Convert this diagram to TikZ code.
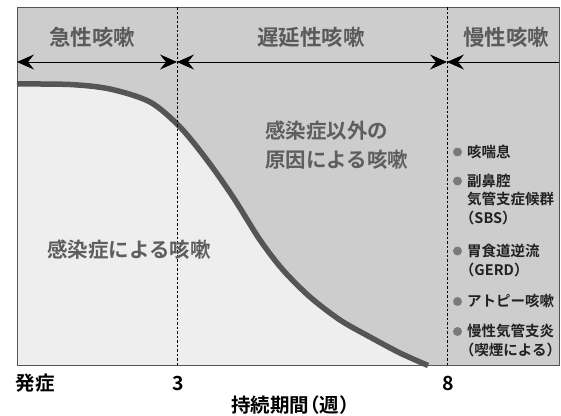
\documentclass[tikz,border=0pt]{standalone}
\usepackage{fontspec}
\setmainfont{Noto Sans CJK JP}[BoldFont={* Bold}]
\usetikzlibrary{arrows.meta}
\definecolor{bandgrey}{HTML}{CDCDCD}
\definecolor{lightarea}{HTML}{EEEEEE}
\definecolor{curvegrey}{HTML}{555555}
\definecolor{headtext}{HTML}{5A5A5A}
\definecolor{areatext}{HTML}{5E5E5E}
\definecolor{listtext}{HTML}{222222}
\definecolor{bulletgrey}{HTML}{7A7A7A}
\newcommand{\lpar}{\kern-0.5em（}
\newcommand{\rpar}{）\kern-0.5em}
\tikzset{
  headlbl/.style={inner sep=0pt, text=headtext, font=\bfseries\fontsize{21.5}{24}\selectfont},
  arealbl/.style={inner sep=0pt, text=areatext, font=\bfseries\fontsize{20.5}{24}\selectfont},
  listlbl/.style={inner sep=0pt, anchor=west, text=listtext, font=\bfseries\fontsize{14.5}{16}\selectfont},
  axislbl/.style={inner sep=0pt, text=black, font=\bfseries\fontsize{19.5}{22}\selectfont},
  dot/.style={circle, fill=bulletgrey, inner sep=0pt, minimum size=9pt},
  periodline/.style={draw=black, dash pattern=on 2.5pt off 2pt, line width=1pt},
  spanarrow/.style={draw=black, line width=0.9pt},
  bothtips/.style={arrows={Stealth[length=17pt,width=15pt,inset=6pt]-Stealth[length=17pt,width=15pt,inset=6pt]}},
  lefttip/.style={arrows={Stealth[length=17pt,width=15pt,inset=6pt]-}}
}
\begin{document}
\begin{tikzpicture}[x=1pt,y=-1pt]
\useasboundingbox (0,0) rectangle (561,415);
\fill[white] (0,0) rectangle (561,415);
% frame background
\fill[bandgrey] (17,7) rectangle (559,365.5);
% area under curve
\fill[lightarea] plot[smooth, tension=0.5] coordinates {(17,84) (70,84.5) (110,89) (150,102) (180,127) (207,160) (233,197) (260,240) (283,270) (310,297) (340,320) (370,337) (400,353) (428,365.5)} -- (17,365.5) -- cycle;
% curve
\draw[curvegrey, line width=5.5pt] plot[smooth, tension=0.5] coordinates {(17,84) (70,84.5) (110,89) (150,102) (180,127) (207,160) (233,197) (260,240) (283,270) (310,297) (340,320) (370,337) (400,353) (428,365.5)};
% frame
\draw[curvegrey, line width=1pt] (17,7) rectangle (559,365.5);
% period boundaries
\coordinate (d1top) at (177,7);
\coordinate (d1bot) at (177,365.5);
\coordinate (d2top) at (447,7);
\coordinate (d2bot) at (447,365.5);
\draw[periodline] (d1top) -- (d1bot);
\draw[periodline] (d2top) -- (d2bot);
% span arrows
\coordinate (aL) at (17,62);
\coordinate (a1) at (177,62);
\coordinate (a2) at (447,62);
\coordinate (aR) at (559,62);
\draw[spanarrow, bothtips] (aL) -- (a1);
\draw[spanarrow, bothtips] (a1) -- (a2);
\draw[spanarrow, lefttip] (a2) -- (aR);
% header labels
\node[headlbl] (h1) at (92,37) {急性咳嗽};
\node[headlbl] (h2) at (311,37) {遅延性咳嗽};
\node[headlbl] (h3) at (506,37) {慢性咳嗽};
% area labels
\node[arealbl] (inf) at (129,250) {感染症による咳嗽};
\node[arealbl, anchor=west] (non1) at (265,131) {感染症以外の};
\node[arealbl, anchor=west] (non2) at (265,160) {原因による咳嗽};
% chronic list
\node[dot] (b1) at (457.5,152) {};
\node[listlbl] (l1) at (467,152) {咳喘息};
\node[dot] (b2) at (457.5,181) {};
\node[listlbl] (l2a) at (467,181) {副鼻腔};
\node[listlbl] (l2b) at (467,199.5) {気管支症候群};
\node[listlbl] (l2c) at (467,218) {\lpar SBS\rpar};
\node[dot] (b3) at (457.5,251) {};
\node[listlbl] (l3a) at (467,251) {胃食道逆流};
\node[listlbl] (l3b) at (467,270) {\lpar GERD\rpar};
\node[dot] (b4) at (457.5,301.5) {};
\node[listlbl] (l4) at (467,301.5) {アトピー咳嗽};
\node[dot] (b5) at (457.5,331.5) {};
\node[listlbl] (l5a) at (467,331.5) {慢性気管支炎};
\node[listlbl] (l5b) at (467,350) {\lpar 喫煙による\rpar};
% axis labels
\node[axislbl] (onset) at (35,383) {発症};
\node[axislbl] (w3) at (178,383) {3};
\node[axislbl] (w8) at (448,383) {8};
\node[axislbl] (dur) at (290,405) {持続期間\kern-0.45em（週\rpar};
\end{tikzpicture}
\end{document}
